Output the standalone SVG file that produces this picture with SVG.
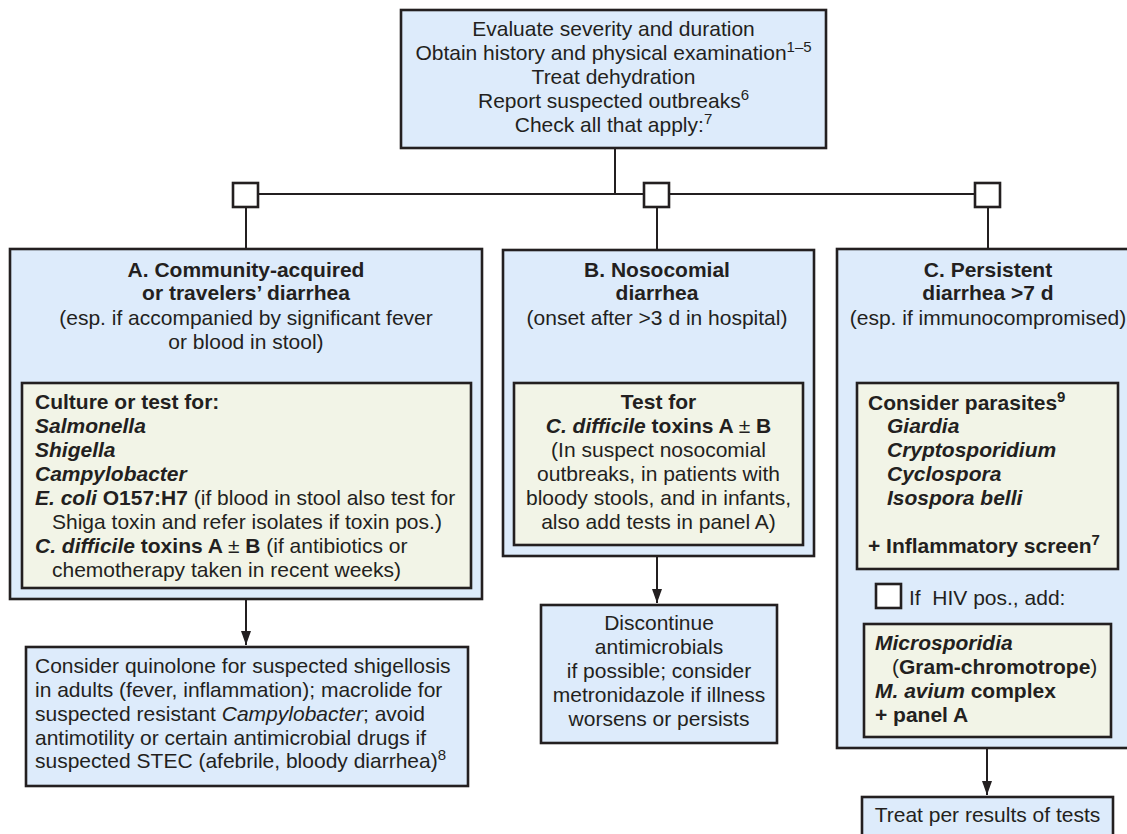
<svg xmlns="http://www.w3.org/2000/svg" width="1127" height="834" viewBox="0 0 1127 834">
<style>
text{font-family:"Liberation Sans",Arial,sans-serif;font-size:21px;fill:#231f20}
.c{text-anchor:middle}
.b{font-weight:bold}
.i{font-style:italic}
.bi{font-weight:bold;font-style:italic}
.box{fill:#ddebfb;stroke:#231f20;stroke-width:2.6}
.panel{fill:#f2f4e7;stroke:#231f20;stroke-width:2.6}
.chk{fill:#fff;stroke:#231f20;stroke-width:2.6}
.ln{fill:none;stroke:#231f20;stroke-width:2}
.sup{font-size:15px}
</style>
<defs>
<marker id="arr" viewBox="0 0 14 10" refX="14" refY="5" markerWidth="14" markerHeight="10" markerUnits="userSpaceOnUse" orient="auto">
<path d="M0,0 L14,5 L0,10 Z" fill="#231f20"/>
</marker>
</defs>

<g id="connectors">
<line class="ln" x1="615" y1="148" x2="615" y2="194"/>
<line class="ln" x1="258" y1="194" x2="975" y2="194"/>
<line class="ln" x1="246" y1="207" x2="246" y2="249"/>
<line class="ln" x1="657" y1="207" x2="657" y2="250"/>
<line class="ln" x1="988" y1="207" x2="988" y2="249"/>
<rect class="chk" x="233" y="183" width="25" height="24"/>
<rect class="chk" x="644" y="183" width="25" height="24"/>
<rect class="chk" x="975" y="183" width="25" height="24"/>
<line class="ln" x1="246" y1="599" x2="246" y2="645" marker-end="url(#arr)"/>
<line class="ln" x1="657" y1="556" x2="657" y2="603" marker-end="url(#arr)"/>
<line class="ln" x1="987" y1="748" x2="987" y2="795" marker-end="url(#arr)"/>
</g>

<g id="start">
<rect class="box" x="401" y="10" width="425" height="138"/>
<text class="c" x="613.5" y="36">Evaluate severity and duration</text>
<text class="c" x="613.5" y="60">Obtain history and physical examination<tspan class="sup" dy="-8">1–5</tspan></text>
<text class="c" x="613.5" y="84">Treat dehydration</text>
<text class="c" x="613.5" y="108">Report suspected outbreaks<tspan class="sup" dy="-8">6</tspan></text>
<text class="c" x="613.5" y="132">Check all that apply:<tspan class="sup" dy="-8">7</tspan></text>
</g>

<g id="panelA">
<rect class="box" x="10" y="249" width="472" height="350"/>
<text class="c b" x="246" y="277">A. Community-acquired</text>
<text class="c b" x="246" y="300">or travelers’ diarrhea</text>
<text class="c" x="246" y="325">(esp. if accompanied by significant fever</text>
<text class="c" x="246" y="349">or blood in stool)</text>
<rect class="panel" x="22" y="383" width="449" height="205"/>
<text class="b" x="35" y="409">Culture or test for:</text>
<text class="bi" x="35" y="433">Salmonella</text>
<text class="bi" x="35" y="457">Shigella</text>
<text class="bi" x="35" y="481">Campylobacter</text>
<text x="35" y="505"><tspan class="bi">E. coli</tspan><tspan class="b"> O157:H7</tspan> (if blood in stool also test for</text>
<text x="52" y="529">Shiga toxin and refer isolates if toxin pos.)</text>
<text x="35" y="553"><tspan class="bi">C. difficile</tspan><tspan class="b"> toxins A </tspan>±<tspan class="b"> B</tspan> (if antibiotics or</text>
<text x="52" y="577">chemotherapy taken in recent weeks)</text>
</g>

<g id="resultA">
<rect class="box" x="26" y="647" width="442" height="139"/>
<text x="35" y="673">Consider quinolone for suspected shigellosis</text>
<text x="35" y="697">in adults (fever, inflammation); macrolide for</text>
<text x="35" y="721">suspected resistant <tspan class="i">Campylobacter</tspan>; avoid</text>
<text x="35" y="745">antimotility or certain antimicrobial drugs if</text>
<text x="35" y="768">suspected STEC (afebrile, bloody diarrhea)<tspan class="sup" dy="-8">8</tspan></text>
</g>

<g id="panelB">
<rect class="box" x="503" y="250" width="311" height="306"/>
<text class="c b" x="657" y="277">B. Nosocomial</text>
<text class="c b" x="657" y="300">diarrhea</text>
<text class="c" x="657" y="325">(onset after &gt;3 d in hospital)</text>
<rect class="panel" x="514" y="383" width="289" height="162"/>
<text class="c b" x="658.5" y="409">Test for</text>
<text class="c" x="658.5" y="433"><tspan class="bi">C. difficile</tspan><tspan class="b"> toxins A </tspan>±<tspan class="b"> B</tspan></text>
<text class="c" x="658.5" y="457">(In suspect nosocomial</text>
<text class="c" x="658.5" y="481">outbreaks, in patients with</text>
<text class="c" x="658.5" y="505">bloody stools, and in infants,</text>
<text class="c" x="658.5" y="529">also add tests in panel A)</text>
</g>

<g id="resultB">
<rect class="box" x="541" y="605" width="236" height="138"/>
<text class="c" x="659" y="630">Discontinue</text>
<text class="c" x="659" y="654">antimicrobials</text>
<text class="c" x="659" y="678">if possible; consider</text>
<text class="c" x="659" y="702">metronidazole if illness</text>
<text class="c" x="659" y="726">worsens or persists</text>
</g>

<g id="panelC">
<rect class="box" x="837" y="249" width="293" height="499"/>
<text class="c b" x="988" y="277">C. Persistent</text>
<text class="c b" x="988" y="300">diarrhea &gt;7 d</text>
<text class="c" x="988" y="325">(esp. if immunocompromised)</text>
<rect class="panel" x="857" y="383" width="261" height="186"/>
<text class="b" x="868" y="410">Consider parasites<tspan class="sup" dy="-8">9</tspan></text>
<text class="bi" x="887" y="433">Giardia</text>
<text class="bi" x="887" y="457">Cryptosporidium</text>
<text class="bi" x="887" y="481">Cyclospora</text>
<text class="bi" x="887" y="505">Isospora belli</text>
<text class="b" x="868" y="553">+ Inflammatory screen<tspan class="sup" dy="-8">7</tspan></text>
<rect class="chk" x="876" y="584" width="25" height="24"/>
<text x="909" y="605" style="white-space:pre">If  HIV pos., add:</text>
<rect class="panel" x="864" y="624" width="247" height="113"/>
<text class="bi" x="875" y="650">Microsporidia</text>
<text x="892" y="674">(<tspan class="b">Gram-chromotrope</tspan>)</text>
<text class="b" x="875" y="698"><tspan class="i">M. avium</tspan> complex</text>
<text class="b" x="875" y="722">+ panel A</text>
</g>

<g id="resultC">
<rect class="box" x="862" y="797" width="251" height="45"/>
<text class="c" x="987.5" y="822">Treat per results of tests</text>
</g>
</svg>
